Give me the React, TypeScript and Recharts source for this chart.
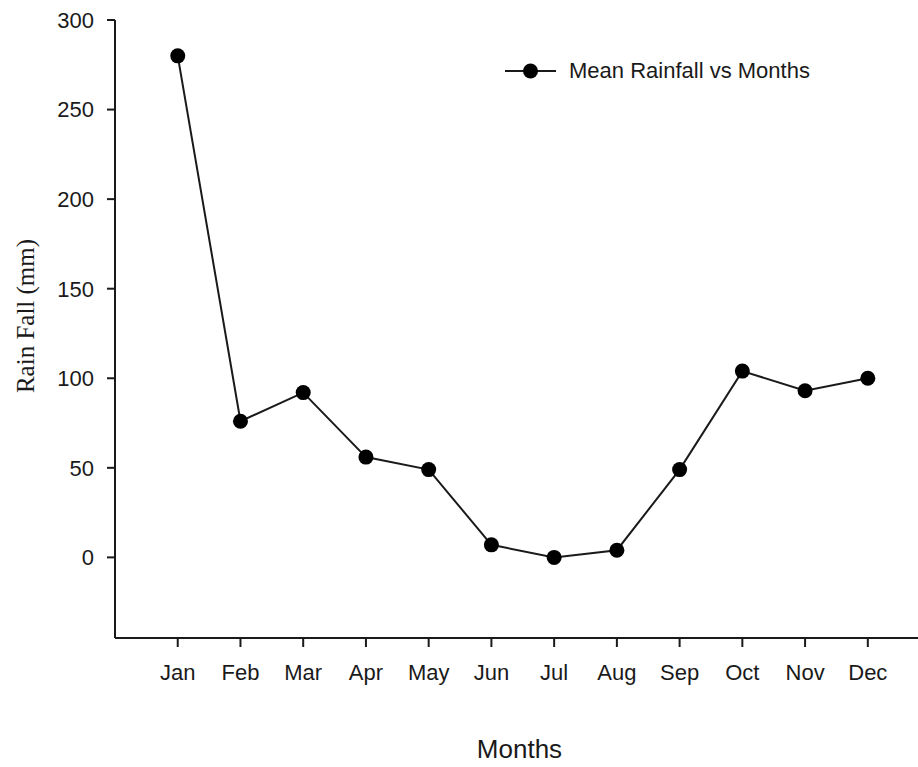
import { LineChart, Line, XAxis, YAxis, Legend, Label } from 'recharts';

const months = ['Jan', 'Feb', 'Mar', 'Apr', 'May', 'Jun', 'Jul', 'Aug', 'Sep', 'Oct', 'Nov', 'Dec'];
const rainfall = [280, 76, 92, 56, 49, 7, 0, 4, 49, 104, 93, 100];
const yTicks = [0, 50, 100, 150, 200, 250, 300];
const seriesName = 'Mean Rainfall vs Months';

const data = months.map((m, i) => ({ idx: i + 1, month: m, rain: rainfall[i] }));
const xTicks = data.map((d) => d.idx);

const sans = '"Liberation Sans", Arial, sans-serif';
const ink = '#1a1a1a';

const LegendBox = () => (
  <div style={{ display: 'flex', alignItems: 'center', gap: 13, fontFamily: sans, fontSize: 22, color: ink }}>
    <svg width={51} height={26}>
      <line x1={0} y1={13} x2={51} y2={13} stroke={ink} strokeWidth={2} />
      <circle cx={25.5} cy={13} r={7.5} fill="#000" />
    </svg>
    <span style={{ lineHeight: '26px', whiteSpace: 'nowrap' }}>{seriesName}</span>
  </div>
);

export default function App() {
  return (
    <div style={{ position: 'absolute', left: 0, top: 0, background: '#fff' }}>
      <LineChart width={918} height={767} data={data} margin={{ top: 20, right: 0, bottom: 0, left: 0 }}>
        <XAxis
          dataKey="idx"
          type="number"
          domain={[0, 12.8]}
          allowDataOverflow
          ticks={xTicks}
          tickFormatter={(v: number) => months[v - 1]}
          height={129}
          stroke={ink}
          strokeWidth={2}
          tickSize={9}
          tickMargin={17}
          tick={{ fill: ink, fontSize: 22, fontFamily: sans }}
        >
          <Label
            content={(props: any) => {
              const vb = props.viewBox || { x: 115, width: 803 };
              return (
                <text x={vb.x + vb.width / 2 + 3} y={758} textAnchor="middle" fill={ink} fontSize={26} fontFamily={sans}>
                  Months
                </text>
              );
            }}
          />
        </XAxis>
        <YAxis
          type="number"
          domain={[-45, 300]}
          allowDataOverflow
          ticks={yTicks}
          width={115}
          stroke={ink}
          strokeWidth={2}
          tickSize={8}
          tickMargin={13}
          tick={{ fill: ink, fontSize: 22, fontFamily: sans }}
        >
          <Label
            content={(props: any) => {
              const vb = props.viewBox || { y: 20, height: 618 };
              const cy = vb.y + vb.height / 2 - 13;
              return (
                <text
                  x={25}
                  y={cy}
                  transform={`rotate(-90, 25, ${cy})`}
                  textAnchor="middle"
                  dominantBaseline="central"
                  fill={ink}
                  fontSize={25}
                  fontFamily='"Liberation Serif", "Times New Roman", serif'
                >
                  Rain Fall (mm)
                </text>
              );
            }}
          />
        </YAxis>
        <Legend
          layout="vertical"
          align="center"
          verticalAlign="middle"
          content={() => <LegendBox />}
          wrapperStyle={{ left: 505, top: 58, width: 'auto' }}
        />
        <Line
          type="linear"
          dataKey="rain"
          name={seriesName}
          stroke={ink}
          strokeWidth={2}
          dot={{ r: 7.5, fill: '#000', stroke: '#000', strokeWidth: 0 }}
          activeDot={false}
          isAnimationActive={false}
        />
      </LineChart>
    </div>
  );
}
